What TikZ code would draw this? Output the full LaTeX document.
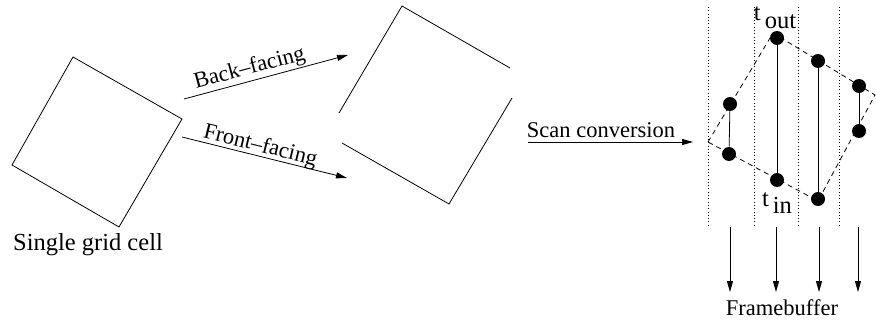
\documentclass[tikz,border=0pt]{standalone}
\usepackage{fontspec}
\setmainfont{Liberation Serif}
\usetikzlibrary{positioning,arrows.meta}
\tikzstyle{canvas} = [x=1pt, y=-1pt, line width=.8pt]
\tikzstyle{cellEdge} = [color=black]
\tikzstyle{flowArrow} = [-{Triangle[length=11pt, width=6pt]}]
\tikzstyle{columnLine} = [dash pattern=on .9pt off 2.4pt, line width=.7pt]
\tikzstyle{hullLine} = [dash pattern=on 5pt off 4pt]
\tikzstyle{sampleDot} = [circle, fill=black, inner sep=0pt, minimum size=14pt]
\tikzstyle{labelText} = [font=\fontsize{22.5}{27}\selectfont, inner sep=0pt]
\tikzstyle{bigText} = [font=\fontsize{24.5}{29}\selectfont, inner sep=0pt]
\newcommand{\tSub}[1]{t\,\raisebox{-.3em}{#1}}

\begin{document}
\begin{tikzpicture}[canvas]
  \useasboundingbox (0,0) rectangle (876,329);
  % single grid cell
  \draw [cellEdge] (73,57) -- (182,119) -- (119,227) -- (12,165) -- cycle;
  \node [bigText, anchor=base] (cellLabel) at (88,250) {Single grid cell};

  % back and front facing
  \coordinate (backStart) at (184,99);
  \coordinate (backEnd) at (348,55);
  \coordinate (frontStart) at (182,137);
  \coordinate (frontEnd) at (347,178);
  \draw [flowArrow] (backStart) -- node [labelText, pos=.42, sloped, above=1.5pt] (backLabel) {Back--facing} (backEnd);
  \draw [flowArrow] (frontStart) -- node [labelText, pos=.46, sloped, above=-1pt] (frontLabel) {Front--facing} (frontEnd);

  % split cell
  \draw [cellEdge] (339,113) -- (402,6) -- (510,68);
  \draw [cellEdge] (512,98) -- (449,204) -- (342,143);

  % scan conversion
  \node [labelText, anchor=base] (scanLabel) at (601,137) {Scan conversion};
  \coordinate (scanStart) at (528,142);
  \coordinate (scanEnd) at (693,142);
  \draw [flowArrow] (scanStart) -- (scanEnd);

  \foreach \colX in {708,754,798,839} {
    \draw [columnLine] (\colX,7) -- (\colX,225);
  }
  \draw [hullLine] (708,142) -- (773,33) -- (875,95) -- (818,201) -- cycle;

  \node [sampleDot] (outA) at (730,104) {};
  \node [sampleDot] (inA) at (729,154) {};
  \node [sampleDot] (outB) at (777,38) {};
  \node [sampleDot] (inB) at (777,180) {};
  \node [sampleDot] (outC) at (818,61) {};
  \node [sampleDot] (inC) at (818,199) {};
  \node [sampleDot] (outD) at (859,86) {};
  \node [sampleDot] (inD) at (859,131) {};
  \draw (outA) -- (inA);
  \draw (outB) -- (inB);
  \draw (outC) -- (inC);
  \draw (outD) -- (inD);
  \node [bigText, anchor=base] (outLabel) at (775,21) {\tSub{out}};
  \node [bigText, anchor=base] (inLabel) at (777,206) {\tSub{in}};

  % framebuffer
  \foreach \colX [count=\i] in {730,776,819,858} {
    \coordinate (fbTop\i) at (\colX,227);
    \coordinate (fbEnd\i) at (\colX,292);
    \draw [flowArrow] (fbTop\i) -- (fbEnd\i);
  }
  \node [labelText, anchor=base] (fbLabel) at (782,315) {Framebuffer};
\end{tikzpicture}
\end{document}
